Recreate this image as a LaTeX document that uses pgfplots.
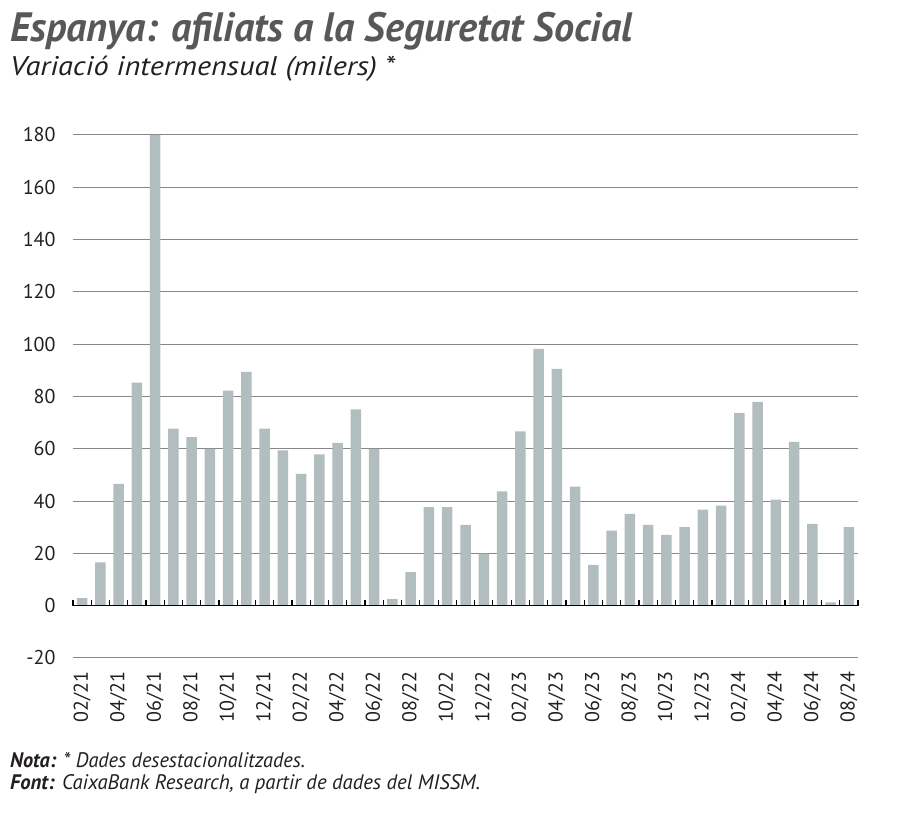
\documentclass[border=0pt]{standalone}
\usepackage{pgfplots}
\pgfplotsset{compat=1.18}
\usepackage{fontspec}
\setmainfont{PT Sans}
\usepackage{graphicx}
\definecolor{barc}{RGB}{178,189,192}
\definecolor{titlec}{RGB}{88,88,90}
\definecolor{gridc}{RGB}{135,135,135}
\definecolor{txt}{RGB}{35,31,32}
\pgfplotstableread{
x y
0 2.9
1 16.6
2 46.6
3 85.3
4 180
5 67.7
6 64.5
7 60.0
8 82.2
9 89.4
10 67.7
11 59.4
12 50.4
13 57.9
14 62.3
15 75.1
16 60.0
17 2.6
18 12.8
19 37.7
20 37.7
21 30.9
22 19.9
23 43.7
24 66.7
25 98.2
26 90.6
27 45.5
28 15.6
29 28.7
30 35.1
31 30.9
32 27.1
33 30.0
34 36.7
35 38.3
36 73.7
37 77.9
38 40.6
39 62.6
40 31.3
41 1.3
42 30.0
}\datatable
\begin{document}
\begin{tikzpicture}[x=1pt,y=1pt]
\path[use as bounding box] (0,0) rectangle (900,827);
\node[anchor=base west, inner sep=0, text=titlec] at (10,785) {\resizebox{622pt}{\height}{\fontsize{41}{45}\selectfont\bfseries\itshape Espanya: afiliats a la Seguretat Social}};
\node[anchor=base west, inner sep=0, text=txt] at (10,751) {\resizebox{385pt}{\height}{\fontsize{27}{30}\selectfont\itshape Variació intermensual (milers) *}};
\begin{axis}[
  at={(73pt,169pt)}, anchor=south west, scale only axis,
  width=785pt, height=523pt,
  xmin=-0.5, xmax=42.5, ymin=-20, ymax=180,
  axis line style={draw=none},
  ytick={-20,0,...,180},
  ymajorgrids, grid style={gridc, line width=1pt},
  major tick length=0,
  xtick={0,2,...,42},
  xticklabels={02/21,04/21,06/21,08/21,10/21,12/21,02/22,04/22,06/22,08/22,10/22,12/22,02/23,04/23,06/23,08/23,10/23,12/23,02/24,04/24,06/24,08/24},
  xticklabel style={rotate=90, anchor=east, font=\fontsize{20}{20}\selectfont, text=txt},
  xticklabel shift=10pt,
  yticklabel style={font=\fontsize{20}{20}\selectfont, text=txt},
  yticklabel shift=14pt,
  /pgf/number format/assume math mode=true,
  clip=false,
]
\addplot[ybar, bar width=10.5pt, fill=barc, draw=none] table[x=x,y=y] {\datatable};
\draw[black, line width=1.5pt] (axis cs:-0.5,0) -- (axis cs:42.5,0);
\pgfplotsinvokeforeach{-0.5,0.5,1.5,2.5,3.5,4.5,5.5,6.5,7.5,8.5,9.5,10.5,11.5,12.5,13.5,14.5,15.5,16.5,17.5,18.5,19.5,20.5,21.5,22.5,23.5,24.5,25.5,26.5,27.5,28.5,29.5,30.5,31.5,32.5,33.5,34.5,35.5,36.5,37.5,38.5,39.5,40.5,41.5,42.5}{\draw[black, line width=1.2pt] (axis cs:#1,0) -- (axis cs:#1,2.3);}
\end{axis}
\node[anchor=base west, inner sep=0, text=txt] at (10,59) {\resizebox{295pt}{\height}{\fontsize{21}{24}\selectfont\textbf{\itshape Nota:} \itshape * Dades desestacionalitzades.}};
\node[anchor=base west, inner sep=0, text=txt] at (10,37) {\resizebox{470pt}{\height}{\fontsize{21}{24}\selectfont\textbf{\itshape Font:} \itshape CaixaBank Research, a partir de dades del MISSM.}};
\end{tikzpicture}
\end{document}
